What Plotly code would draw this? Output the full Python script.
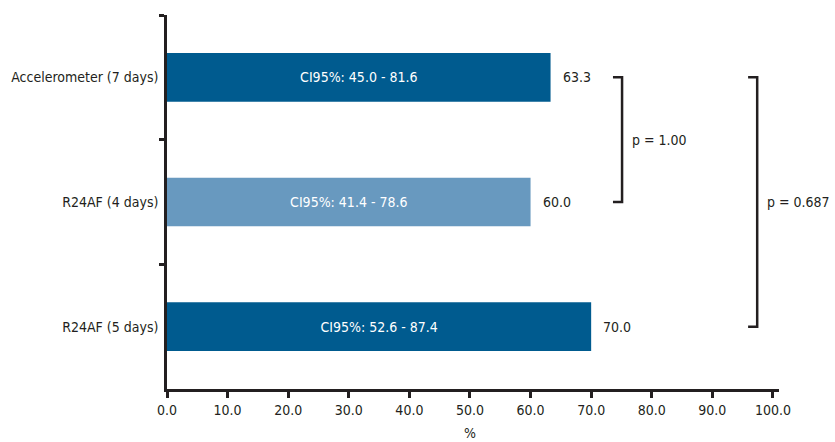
import plotly.graph_objects as go

categories = ["Accelerometer (7 days)", "R24AF (4 days)", "R24AF (5 days)"]
values = [63.3, 60.0, 70.0]
ci_low = [45.0, 41.4, 52.6]
ci_high = [81.6, 78.6, 87.4]
bar_colors = ["#005b8f", "#6899bf", "#005b8f"]
x_ticks = [0, 10, 20, 30, 40, 50, 60, 70, 80, 90, 100]
x_tick_labels = ["%.1f" % t for t in x_ticks]
p_labels = ["p = 1.00", "p = 0.687"]
p_pairs = [(0, 1), (0, 2)]
bracket_x = [(73.6, 75.1), (95.9, 97.4)]

FONT = "Liberation Sans Narrow, DejaVu Sans Condensed, Arial Narrow, sans-serif"
INK = "#231f20"
FS = 14

ci_text = ["CI95%%: %.1f - %.1f" % (lo, hi) for lo, hi in zip(ci_low, ci_high)]

fig = go.Figure()
fig.add_trace(go.Bar(
    y=categories, x=values, orientation="h",
    marker=dict(color=bar_colors, line=dict(width=0)),
    width=0.39,
    text=ci_text, textposition="inside", insidetextanchor="middle",
    textfont=dict(color="white", size=FS, family=FONT),
    hoverinfo="skip",
))

# value labels
for c, v in zip(categories, values):
    fig.add_annotation(x=v, y=c, xref="x", yref="y", text="%.1f" % v,
                       xanchor="left", yanchor="middle", xshift=10, showarrow=False,
                       font=dict(size=FS, color=INK, family=FONT))

# brackets
for (i, j), (x0, x1), lab in zip(p_pairs, bracket_x, p_labels):
    path = "M %f,%f L %f,%f L %f,%f L %f,%f" % (x0, i, x1, i, x1, j, x0, j)
    fig.add_shape(type="path", path=path, xref="x", yref="y",
                  line=dict(color=INK, width=2.5))
    fig.add_annotation(x=x1, y=(i + j) / 2, xref="x", yref="y", text=lab,
                       xanchor="left", yanchor="middle", xshift=8, showarrow=False,
                       font=dict(size=FS, color=INK, family=FONT))

fig.add_annotation(x=50, y=0, xref="x", yref="paper", yshift=-44, text="%",
                   showarrow=False, xanchor="center", yanchor="middle",
                   font=dict(size=FS, color=INK, family=FONT))

fig.update_layout(
    width=835, height=442,
    margin=dict(l=167, r=56, t=15, b=53),
    paper_bgcolor="white", plot_bgcolor="white",
    showlegend=False,
    font=dict(family=FONT, size=FS, color=INK),
    xaxis=dict(range=[0, 101], tickvals=x_ticks, ticktext=x_tick_labels,
               showgrid=False, zeroline=False, showline=True, linecolor=INK, linewidth=2.5,
               ticks="outside", ticklen=6, tickwidth=2.5, tickcolor=INK, automargin=False,
               tickfont=dict(size=FS, color=INK, family=FONT), fixedrange=True),
    yaxis=dict(type="category", categoryorder="array", categoryarray=categories,
               autorange=False, range=[2.5, -0.5], tickson="boundaries",
               showgrid=False, zeroline=False, showline=True, linecolor=INK, linewidth=2.5,
               ticks="outside", ticklen=5, tickwidth=2.5, tickcolor=INK, automargin=False,
               tickfont=dict(size=FS, color=INK, family=FONT), ticklabelstandoff=3),
)

fig.write_html("out.html")
